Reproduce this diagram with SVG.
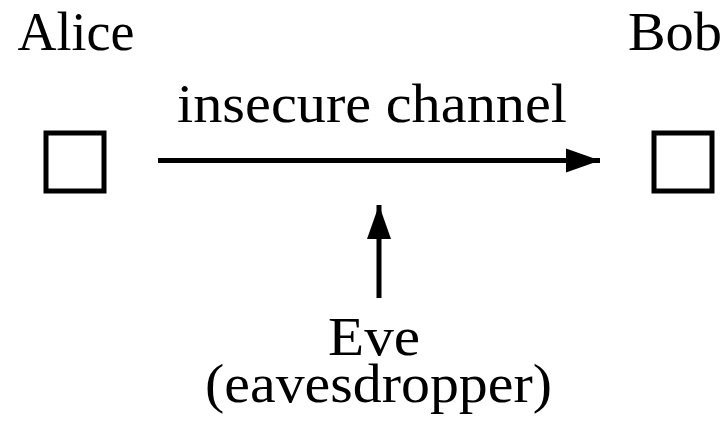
<svg xmlns="http://www.w3.org/2000/svg" width="727" height="422" viewBox="0 0 727 422">
<style>
.t{font-family:'Liberation Serif','DejaVu Serif',serif;font-size:55px;fill:#000;text-anchor:middle}
.box{fill:#fff;stroke:#000;stroke-width:5}
.conn{stroke:#000;stroke-width:5;fill:none}
</style>
<defs>
<marker id="ah" markerUnits="userSpaceOnUse" markerWidth="36" markerHeight="26" refX="34" refY="12" orient="auto" viewBox="0 0 36 24">
<path d="M0,0 L34,12 L0,24 Z" fill="#000"/>
</marker>
</defs>
<rect width="727" height="422" fill="#fff"/>
<g id="alice">
<text class="t" x="76" y="50" textLength="117" lengthAdjust="spacingAndGlyphs">Alice</text>
<rect class="box" x="46" y="133" width="58" height="58"/>
</g>
<g id="bob">
<text class="t" x="675" y="50" textLength="94" lengthAdjust="spacingAndGlyphs">Bob</text>
<rect class="box" x="654" y="133" width="58" height="58"/>
</g>
<g id="eve">
<text class="t" x="374" y="355" textLength="92" lengthAdjust="spacingAndGlyphs">Eve</text>
<text class="t" x="378.5" y="402" textLength="347" lengthAdjust="spacingAndGlyphs">(eavesdropper)</text>
</g>
<g id="connectors">
<line class="conn" x1="158" y1="160.5" x2="600" y2="160.5" marker-end="url(#ah)"/>
<text class="t" x="372" y="122" textLength="390" lengthAdjust="spacingAndGlyphs">insecure channel</text>
<line class="conn" x1="379" y1="298" x2="379" y2="205" marker-end="url(#ah)"/>
</g>
</svg>
